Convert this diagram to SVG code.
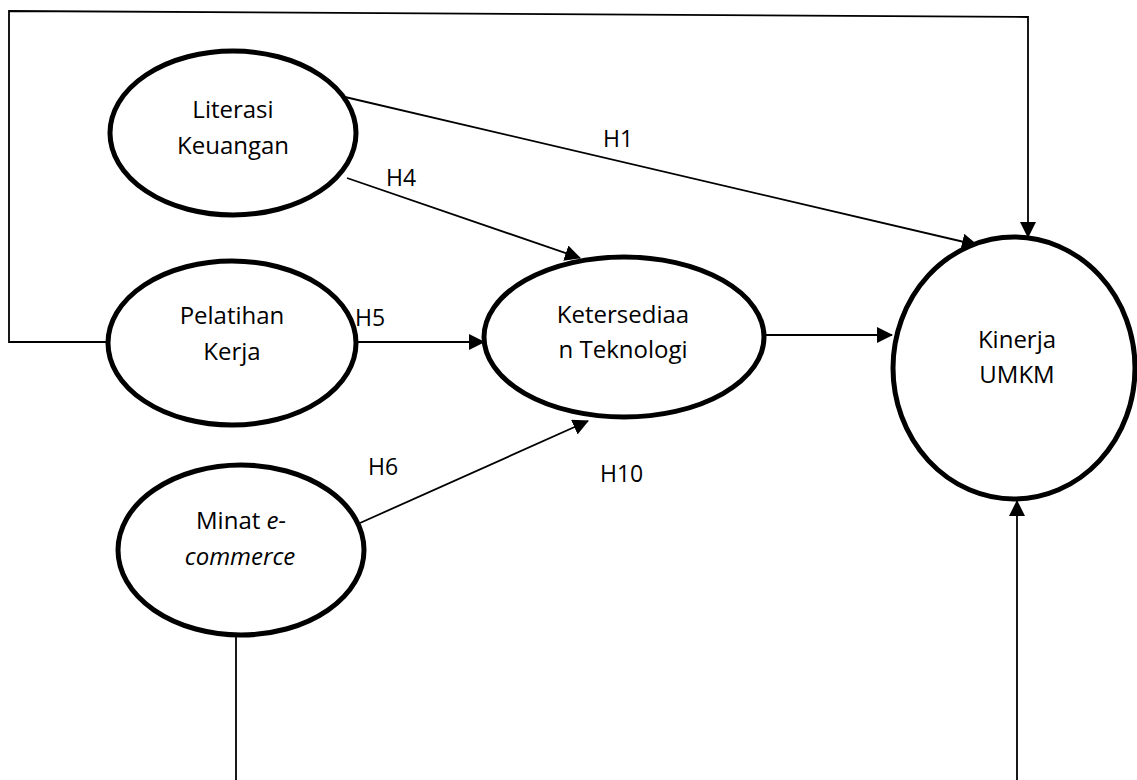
<svg xmlns="http://www.w3.org/2000/svg" width="1137" height="780" viewBox="0 0 1137 780">
<defs>
<marker id="ah" markerUnits="userSpaceOnUse" markerWidth="16" markerHeight="16" viewBox="0 0 16 16" refX="15" refY="8" orient="auto">
<path d="M0,0 L16,8 L0,16 Z" fill="#000"/>
</marker>
</defs>
<style>
.node ellipse{fill:#fff;stroke:#000;stroke-width:5}
.t{font-family:"Open Sans","Liberation Sans",sans-serif;font-size:24px;fill:#000;text-anchor:middle}
.lbl{font-family:"Open Sans","Liberation Sans",sans-serif;font-size:23px;fill:#000}
.c{fill:none;stroke:#000;stroke-width:1.8}
.a{marker-end:url(#ah)}
</style>
<rect width="1137" height="780" fill="#fff"/>
<g id="connectors">
<polyline class="c a" points="108,342 9,342 9,11 1028,17 1028,237"/>
<line class="c a" x1="345" y1="97" x2="977" y2="245"/>
<line class="c a" x1="347" y1="178" x2="580" y2="258"/>
<line class="c a" x1="356" y1="342" x2="484" y2="342"/>
<line class="c a" x1="360" y1="523" x2="588" y2="421"/>
<line class="c a" x1="764" y1="335" x2="892" y2="335"/>
<line class="c" x1="236" y1="635" x2="236" y2="780"/>
<line class="c a" x1="1017" y1="780" x2="1017" y2="501"/>
</g>
<g id="labels">
<text class="lbl" x="603" y="147">H1</text>
<text class="lbl" x="386" y="186">H4</text>
<text class="lbl" x="355" y="326">H5</text>
<text class="lbl" x="368" y="475">H6</text>
<text class="lbl" x="600" y="482">H10</text>
</g>
<g id="literasi" class="node">
<ellipse cx="233" cy="133" rx="123" ry="82"/>
<text class="t" x="233" y="118">Literasi</text>
<text class="t" x="233" y="154">Keuangan</text>
</g>
<g id="pelatihan" class="node">
<ellipse cx="232" cy="343" rx="124" ry="82"/>
<text class="t" x="232" y="324">Pelatihan</text>
<text class="t" x="232" y="360">Kerja</text>
</g>
<g id="ketersediaan" class="node">
<ellipse cx="624" cy="337" rx="140" ry="80"/>
<text class="t" x="623" y="323">Ketersediaa</text>
<text class="t" x="623" y="358">n Teknologi</text>
</g>
<g id="minat" class="node">
<ellipse cx="241" cy="550" rx="123" ry="85"/>
<text class="t" x="241" y="529">Minat <tspan font-style="italic">e-</tspan></text>
<text class="t" x="240" y="565" font-style="italic">commerce</text>
</g>
<g id="kinerja" class="node">
<ellipse cx="1014" cy="368" rx="121" ry="131"/>
<text class="t" x="1017" y="348">Kinerja</text>
<text class="t" x="1017" y="383">UMKM</text>
</g>
</svg>
